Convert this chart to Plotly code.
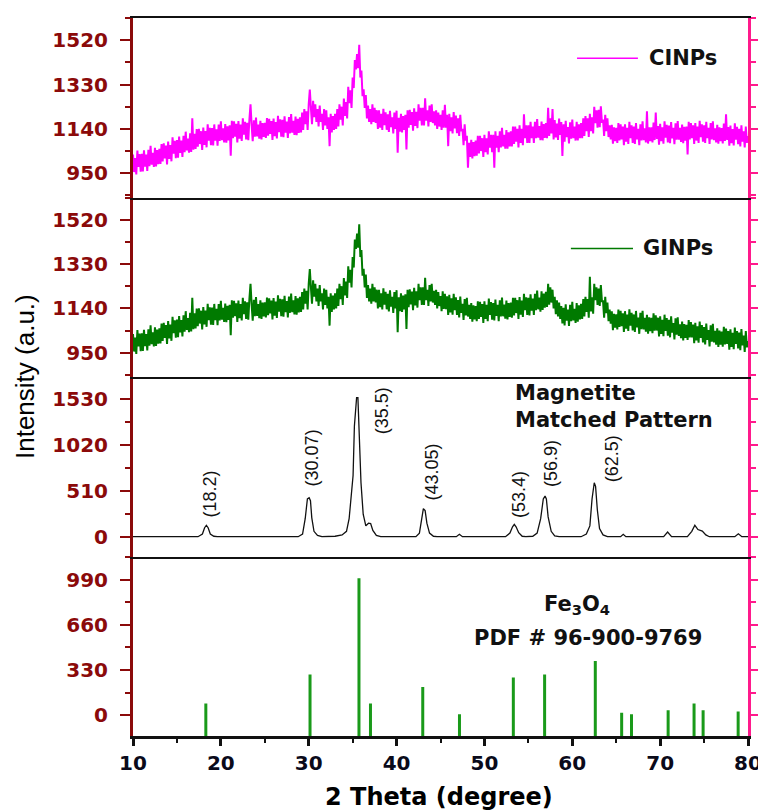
import plotly.graph_objects as go

# ---------------- data ----------------
X_START, X_STEP = 10.0, 0.125

# CINPs intensity, sampled every 0.125 deg from 10 to 80 (8 readings per degree)
CINPS = [
    1030, 955, 1015, 945, 1047, 977, 1032, 957,      # 10
    1033, 958, 1048, 978, 1030, 960, 1050, 980,      # 11
    1067, 987, 1037, 977, 1059, 979, 1049, 989,      # 12
    1055, 990, 1075, 1000, 1078, 1013, 1068, 988,    # 13
    1086, 1011, 1071, 1001, 1104, 1034, 1089, 1014,  # 14
    1092, 1017, 1107, 1037, 1090, 1020, 1110, 1040,  # 15
    1128, 1048, 1098, 1038, 1121, 1041, 1185, 1051,  # 16
    1119, 1054, 1139, 1064, 1140, 1075, 1130, 1050,  # 17
    1146, 1071, 1131, 1061, 1160, 1090, 1145, 1070,  # 18
    1144, 1069, 1159, 1089, 1138, 1068, 1158, 1088,  # 19
    1172, 1092, 1142, 1082, 1161, 1081, 1151, 1091,  # 20
    1155, 1025, 1175, 1100, 1172, 1107, 1162, 1082,  # 21
    1173, 1098, 1158, 1088, 1185, 1115, 1170, 1095,  # 22
    1166, 1091, 1181, 1245, 1157, 1087, 1177, 1107,  # 23
    1188, 1108, 1158, 1098, 1175, 1095, 1165, 1105,  # 24
    1166, 1101, 1186, 1111, 1183, 1118, 1173, 1093,  # 25
    1184, 1109, 1169, 1099, 1196, 1126, 1181, 1106,  # 26
    1179, 1104, 1194, 1124, 1171, 1101, 1191, 1121,  # 27
    1204, 1124, 1174, 1114, 1193, 1113, 1183, 1123,  # 28
    1190, 1125, 1210, 1135, 1225, 1160, 1215, 1135,  # 29
    1245, 1308, 1230, 1160, 1260, 1190, 1245, 1170,  # 30
    1225, 1150, 1240, 1170, 1205, 1135, 1225, 1155,  # 31
    1220, 1140, 1190, 1066, 1205, 1125, 1195, 1135,  # 32
    1205, 1140, 1225, 1150, 1245, 1180, 1235, 1155,  # 33
    1270, 1195, 1255, 1185, 1320, 1250, 1305, 1230,  # 34
    1360, 1315, 1435, 1395, 1460, 1400, 1500, 1360,  # 35
    1390, 1280, 1310, 1230, 1285, 1185, 1240, 1170,  # 36
    1225, 1160, 1245, 1170, 1230, 1165, 1220, 1140,  # 37
    1220, 1145, 1205, 1135, 1226, 1156, 1211, 1136,  # 38
    1202, 1127, 1217, 1147, 1190, 1120, 1210, 1140,  # 39
    1218, 1038, 1188, 1128, 1205, 1125, 1195, 1135,  # 40
    1200, 1052, 1220, 1145, 1222, 1157, 1212, 1132,  # 41
    1228, 1153, 1213, 1143, 1245, 1175, 1230, 1155,  # 42
    1230, 1155, 1271, 1175, 1220, 1150, 1240, 1170,  # 43
    1245, 1165, 1215, 1155, 1220, 1140, 1210, 1150,  # 44
    1200, 1135, 1220, 1145, 1243, 1145, 1200, 1066,  # 45
    1205, 1130, 1190, 1120, 1212, 1142, 1197, 1122,  # 46
    1185, 1110, 1200, 1130, 1140, 1070, 1160, 1090,  # 47
    1110, 974, 1080, 1020, 1093, 1013, 1083, 1023,   # 48
    1090, 1025, 1110, 1035, 1110, 1045, 1100, 1020,  # 49
    1115, 1040, 1100, 1030, 1130, 1060, 1115, 1040,  # 50
    1115, 974, 1130, 1060, 1110, 1040, 1130, 1060,   # 51
    1145, 1065, 1115, 1055, 1135, 1055, 1125, 1065,  # 52
    1130, 1065, 1150, 1075, 1150, 1085, 1140, 1060,  # 53
    1155, 1080, 1140, 1070, 1202, 1100, 1155, 1080,  # 54
    1155, 1080, 1170, 1100, 1150, 1080, 1170, 1100,  # 55
    1182, 1102, 1152, 1092, 1171, 1091, 1161, 1101,  # 56
    1165, 1100, 1230, 1110, 1185, 1120, 1225, 1095,  # 57
    1178, 1103, 1163, 1093, 1184, 1114, 1169, 1024,  # 58
    1160, 1085, 1175, 1105, 1148, 1078, 1168, 1098,  # 59
    1180, 1100, 1150, 1090, 1170, 1090, 1160, 1100,  # 60
    1165, 1100, 1185, 1110, 1195, 1130, 1185, 1105,  # 61
    1205, 1130, 1190, 1120, 1235, 1165, 1220, 1145,  # 62
    1222, 1147, 1237, 1167, 1180, 1110, 1200, 1130,  # 63
    1185, 1105, 1155, 1095, 1157, 1077, 1147, 1087,  # 64
    1145, 1080, 1165, 1090, 1160, 1095, 1150, 1070,  # 65
    1160, 1085, 1145, 1075, 1170, 1100, 1155, 1080,  # 66
    1150, 1075, 1165, 1095, 1140, 1070, 1160, 1090,  # 67
    1172, 1092, 1142, 1082, 1215, 1077, 1147, 1087,  # 68
    1147, 1082, 1167, 1092, 1210, 1097, 1152, 1072,  # 69
    1162, 1087, 1147, 1077, 1172, 1102, 1157, 1082,  # 70
    1154, 1079, 1169, 1099, 1144, 1074, 1164, 1094,  # 71
    1174, 1094, 1144, 1084, 1159, 1079, 1149, 1089,  # 72
    1150, 1030, 1170, 1095, 1165, 1100, 1155, 1075,  # 73
    1165, 1090, 1150, 1080, 1175, 1105, 1160, 1085,  # 74
    1155, 1080, 1170, 1100, 1145, 1075, 1165, 1095,  # 75
    1172, 1092, 1142, 1082, 1157, 1077, 1147, 1087,  # 76
    1143, 1078, 1163, 1088, 1202, 1093, 1148, 1068,  # 77
    1154, 1079, 1139, 1069, 1164, 1094, 1149, 1074,  # 78
    1140, 1065, 1155, 1085, 1130, 1060, 1150, 1080,  # 79
    1110,                                            # 80
]

# GINPs is identical to CINPs below 45 deg; its own readings from 45 to 80 deg
GINPS_SHARED_UNTIL = 45.0
GINPS_TAIL = [
    1193, 1128, 1213, 1138, 1202, 1137, 1192, 1112,  # 45
    1198, 1123, 1183, 1113, 1202, 1132, 1187, 1112,  # 46
    1176, 1101, 1191, 1121, 1160, 1090, 1180, 1110,  # 47
    1185, 1105, 1155, 1095, 1163, 1083, 1153, 1093,  # 48
    1150, 1085, 1170, 1095, 1168, 1103, 1158, 1078,  # 49
    1170, 1095, 1155, 1085, 1182, 1112, 1167, 1092,  # 50
    1163, 1088, 1178, 1108, 1155, 1085, 1175, 1105,  # 51
    1186, 1106, 1156, 1096, 1173, 1093, 1163, 1103,  # 52
    1165, 1100, 1185, 1110, 1185, 1120, 1175, 1095,  # 53
    1188, 1113, 1173, 1103, 1202, 1132, 1187, 1112,  # 54
    1185, 1110, 1200, 1130, 1182, 1112, 1202, 1132,  # 55
    1216, 1136, 1186, 1126, 1213, 1133, 1203, 1143,  # 56
    1211, 1146, 1245, 1156, 1230, 1165, 1220, 1140,  # 57
    1190, 1115, 1175, 1105, 1165, 1095, 1150, 1075,  # 58
    1142, 1067, 1157, 1087, 1135, 1065, 1155, 1085,  # 59
    1168, 1088, 1138, 1078, 1163, 1083, 1153, 1093,  # 60
    1160, 1095, 1180, 1105, 1190, 1125, 1180, 1100,  # 61
    1275, 1127, 1187, 1117, 1245, 1175, 1230, 1155,  # 62
    1225, 1150, 1240, 1170, 1170, 1100, 1190, 1120,  # 63
    1165, 1085, 1135, 1075, 1127, 1047, 1117, 1057,  # 64
    1115, 1050, 1135, 1060, 1129, 1064, 1119, 1039,  # 65
    1128, 1053, 1113, 1043, 1136, 1066, 1121, 1046,  # 66
    1114, 1039, 1129, 1059, 1101, 1031, 1121, 1051,  # 67
    1130, 1050, 1100, 1040, 1112, 1032, 1102, 1042,  # 68
    1099, 1034, 1119, 1044, 1110, 1045, 1100, 1020,  # 69
    1106, 1031, 1091, 1021, 1113, 1043, 1098, 1023,  # 70
    1091, 1016, 1106, 1036, 1077, 1007, 1097, 1027,  # 71
    1102, 1022, 1072, 1012, 1083, 1003, 1073, 1013,  # 72
    1070, 1005, 1090, 1015, 1081, 1016, 1071, 991,   # 73
    1078, 1003, 1063, 993, 1084, 1014, 1069, 994,    # 74
    1060, 985, 1075, 1005, 1047, 977, 1067, 997,     # 75
    1074, 994, 1044, 984, 1055, 975, 1045, 985,      # 76
    1041, 976, 1061, 986, 1053, 988, 1043, 963,      # 77
    1050, 975, 1035, 965, 1058, 988, 1043, 968,      # 78
    1036, 961, 1051, 981, 1023, 953, 1043, 973,      # 79
    1000,                                            # 80
]

# Magnetite matched pattern (2theta, intensity)
PAT_X = [10, 17.4, 17.9, 18.15, 18.35, 18.55, 18.8, 19.2, 19.6,
         28.8, 29.3, 29.6, 29.85, 30.05, 30.2, 30.35, 30.6, 31.0, 31.5,
         33.0, 33.8, 34.3, 34.6, 34.85, 35.05, 35.2, 35.45, 35.6, 35.75, 35.95, 36.2, 36.5, 36.8, 37.05, 37.3, 37.7, 38.2,
         42.2, 42.6, 42.85, 43.05, 43.25, 43.45, 43.75, 44.2, 44.6,
         46.8, 47.15, 47.5,
         52.4, 52.9, 53.2, 53.4, 53.6, 53.9, 54.3, 54.7,
         55.5, 56.0, 56.4, 56.7, 56.9, 57.05, 57.25, 57.6, 58.0, 58.5,
         61.0, 61.6, 62.0, 62.25, 62.5, 62.65, 62.85, 63.1, 63.5, 64.0,
         65.5, 65.8, 66.1,
         70.4, 70.85, 71.3,
         73.1, 73.6, 73.95, 74.3, 74.8, 75.2, 75.6,
         78.5, 78.9, 79.3, 80]
PAT_Y = [0, 0, 30, 100, 127, 100, 30, 5, 0,
         0, 30, 200, 420, 433, 400, 210, 60, 15, 0,
         5, 20, 60, 200, 500, 680, 1230, 1545, 1545, 1085, 600, 250, 120, 150, 145, 70, 15, 0,
         0, 40, 200, 311, 290, 150, 40, 5, 0,
         0, 27, 0,
         0, 40, 110, 138, 110, 45, 5, 0,
         5, 40, 200, 420, 452, 420, 220, 60, 10, 0,
         0, 30, 120, 420, 600, 560, 300, 90, 20, 0,
         0, 27, 0,
         0, 52, 0,
         0, 60, 127, 80, 63, 20, 0,
         0, 33, 0, 0]

# Fe3O4 reference card PDF # 96-900-9769 (stick pattern)
PDF_POS = [18.29, 30.15, 35.72, 37.03, 42.98, 47.16, 53.29, 56.85, 62.62,
           65.62, 66.74, 70.91, 73.86, 74.89, 78.88]
PDF_INT = [85, 296, 1000, 85, 206, 7, 274, 296, 395, 17, 7, 36, 85, 36, 26]

# Peak labels of the matched pattern
PEAK_LABELS = ["(18.2)", "(30.07)", "(35.5)", "(43.05)", "(53.4)", "(56.9)", "(62.5)"]
PEAK_LABEL_X = [18.76, 30.34, 38.37, 44.0, 53.93, 57.65, 64.48]
PEAK_LABEL_Y = [480, 878, 1397, 721, 474, 815, 869]

# ---------------- styling ----------------
LEFT_COL = "#8B0A0A"
RIGHT_COL = "#FF1A8C"
BOLD = dict(family="DejaVu Sans", weight="bold")
X_RANGE = [10, 80]
RANGE_TOP = [846, 1615]
RANGE_PAT = [-220, 1775]
RANGE_PDF = [-153, 1160]

xs = [X_START + X_STEP * i for i in range(len(CINPS))]
n_shared = int(round((GINPS_SHARED_UNTIL - X_START) / X_STEP))
ginps = CINPS[:n_shared] + GINPS_TAIL

stick_x, stick_y = [], []
for p, h in zip(PDF_POS, PDF_INT):
    stick_x += [p, p, None]
    stick_y += [RANGE_PDF[0], h, None]

fig = go.Figure()
fig.add_trace(go.Scatter(x=xs, y=CINPS, mode="lines", line=dict(color="#FF00FF", width=2),
                         xaxis="x4", yaxis="y4", name="CINPs"))
fig.add_trace(go.Scatter(x=xs, y=ginps, mode="lines", line=dict(color="#007A00", width=2),
                         xaxis="x3", yaxis="y3", name="GINPs"))
fig.add_trace(go.Scatter(x=PAT_X, y=PAT_Y, mode="lines", line=dict(color="#111111", width=1.3),
                         xaxis="x2", yaxis="y2", name="Magnetite"))
fig.add_trace(go.Scatter(x=stick_x, y=stick_y, mode="lines", line=dict(color="#1A9A1A", width=3),
                         xaxis="x", yaxis="y", name="Fe3O4"))
# placeholders so right-hand axes exist
for i in range(5, 9):
    fig.add_trace(go.Scatter(x=[None], y=[None], xaxis="x", yaxis=f"y{i}", showlegend=False,
                             hoverinfo="skip"))

domains = {1: [0, 0.25], 2: [0.25, 0.5], 3: [0.5, 0.75], 4: [0.75, 1.0]}
ranges = {1: RANGE_PDF, 2: RANGE_PAT, 3: RANGE_TOP, 4: RANGE_TOP}
ticks = {1: (0, 330), 2: (0, 510), 3: (950, 190), 4: (950, 190)}


def ykey(i):
    return "yaxis" if i == 1 else f"yaxis{i}"


def xkey(i):
    return "xaxis" if i == 1 else f"xaxis{i}"


# the page body has an 8px margin, so the figure margins compensate for it
layout = dict(
    width=766, height=811, showlegend=False,
    paper_bgcolor="white", plot_bgcolor="white",
    margin=dict(l=125, r=26, t=8, b=83),
)

for i in range(1, 5):
    t0, dt = ticks[i]
    layout[ykey(i)] = dict(
        domain=domains[i], range=ranges[i], anchor="x" if i == 1 else f"x{i}",
        showgrid=False, zeroline=False, showline=True, linecolor=LEFT_COL, linewidth=3,
        ticks="outside", ticklen=10, tickwidth=2, tickcolor=LEFT_COL,
        tick0=t0, dtick=dt, ticklabelstandoff=8,
        tickfont=dict(size=20, color=LEFT_COL, **BOLD),
        minor=dict(ticks="outside", ticklen=5, tickwidth=2, tickcolor=LEFT_COL,
                   tick0=t0, dtick=dt / 2, showgrid=False),
    )
    layout[f"yaxis{i + 4}"] = dict(
        overlaying="y" if i == 1 else f"y{i}", side="right",
        anchor="x" if i == 1 else f"x{i}",
        range=ranges[i], showgrid=False, zeroline=False, showline=True,
        linecolor=RIGHT_COL, linewidth=3, ticks="outside", ticklen=10, tickwidth=2,
        tickcolor=RIGHT_COL, tick0=t0, dtick=dt, showticklabels=False,
        minor=dict(ticks="outside", ticklen=5, tickwidth=2, tickcolor=RIGHT_COL,
                   tick0=t0, dtick=dt / 2, showgrid=False),
    )
    xa = dict(
        range=X_RANGE, anchor="y" if i == 1 else f"y{i}", domain=[0, 1],
        showgrid=False, zeroline=False, showline=True, linecolor="#111111",
        linewidth=2, showticklabels=False, ticks="",
    )
    if i > 1:
        xa["matches"] = "x"
    if i == 4:
        xa["mirror"] = True
    if i == 1:
        xa.update(showticklabels=True, ticks="outside", ticklen=7, tickwidth=3,
                  tickcolor="#111111", tick0=10, dtick=10, linewidth=3,
                  tickfont=dict(size=20, color="#0A0A1A", **BOLD),
                  minor=dict(ticks="outside", ticklen=4, tickwidth=2, tickcolor="#111111",
                             tick0=10, dtick=5))
    layout[xkey(i)] = xa

fig.update_layout(**layout)

ann = []
# axis titles
ann.append(dict(text="Intensity (a.u.)", xref="paper", yref="paper", x=-0.1756, y=0.5,
                textangle=-90, showarrow=False, xanchor="center", yanchor="middle",
                font=dict(family="Liberation Sans", size=26, color="#000000")))
ann.append(dict(text="2 Theta (degree)", xref="paper", yref="paper", x=0.497, y=-0.0847,
                showarrow=False, xanchor="center", yanchor="middle",
                font=dict(size=24, color="#000000", **BOLD)))
# legend texts
ann.append(dict(text="CINPs", xref="paper", yref="paper", x=0.836, y=0.944, showarrow=False,
                xanchor="left", yanchor="middle", font=dict(size=21, color="#111111", **BOLD)))
ann.append(dict(text="GINPs", xref="paper", yref="paper", x=0.826, y=0.679, showarrow=False,
                xanchor="left", yanchor="middle", font=dict(size=21, color="#111111", **BOLD)))
# pattern titles
ann.append(dict(text="Magnetite", xref="paper", yref="paper", x=0.618, y=0.478, showarrow=False,
                xanchor="left", yanchor="middle", font=dict(size=21, color="#111111", **BOLD)))
ann.append(dict(text="Matched Pattern", xref="paper", yref="paper", x=0.618, y=0.440,
                showarrow=False, xanchor="left", yanchor="middle",
                font=dict(size=21, color="#111111", **BOLD)))
ann.append(dict(text="Fe<sub>3</sub>O<sub>4</sub>", xref="paper", yref="paper", x=0.722, y=0.182,
                showarrow=False, xanchor="center", yanchor="middle",
                font=dict(size=21, color="#111111", **BOLD)))
ann.append(dict(text="PDF # 96-900-9769", xref="paper", yref="paper", x=0.740, y=0.1365,
                showarrow=False, xanchor="center", yanchor="middle",
                font=dict(size=21, color="#111111", **BOLD)))
# peak labels
for lab, lx, ly in zip(PEAK_LABELS, PEAK_LABEL_X, PEAK_LABEL_Y):
    ann.append(dict(text=lab, xref="x2", yref="y2", x=lx, y=ly, textangle=-90, showarrow=False,
                    xanchor="center", yanchor="middle",
                    font=dict(family="Liberation Sans", size=18, color="#111111")))

fig.update_layout(annotations=ann)

# legend line samples
fig.add_shape(type="line", xref="paper", yref="paper", x0=0.722, x1=0.821, y0=0.944, y1=0.944,
              line=dict(color="#FF00FF", width=1.5))
fig.add_shape(type="line", xref="paper", yref="paper", x0=0.712, x1=0.813, y0=0.679, y1=0.679,
              line=dict(color="#007A00", width=1.5))

fig.write_html("out.html")
